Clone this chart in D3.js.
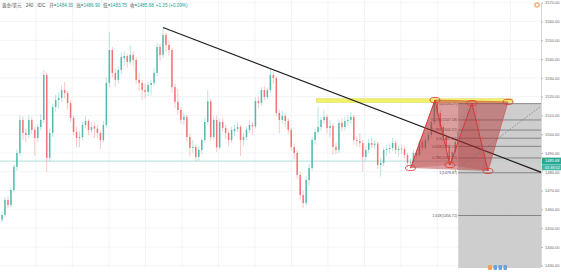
<!DOCTYPE html>
<html>
<head>
<meta charset="utf-8">
<script src="https://cdn.jsdelivr.net/npm/d3@7"></script>
<style>
  body { margin: 0; background: #fff; overflow: hidden; }
  text { font-family: "Liberation Sans", "Noto Sans CJK SC", sans-serif; }
</style>
</head>
<body>
<svg id="chart" width="561" height="273"></svg>
<script>
// XAU/USD 4h candles
const opens = [
  1454.5,1457.0,1465.0,1462.3,1470.3,1482.6,1490.0,1507.6,1500.7,1499.6,
  1507.6,1502.3,1498.0,1503.8,1507.6,1531.5,1487.4,1500.7,1514.5,1518.2,
  1519.3,1523.5,1521.9,1516.6,1508.6,1501.2,1498.0,1498.5,1504.9,1507.0,
  1502.3,1504.2,1503.0,1500.7,1496.9,1504.9,1527.3,1544.8,1532.6,1528.9,
  1534.2,1540.5,1541.6,1538.5,1542.2,1539.5,1528.9,1527.3,1523.5,1522.5,
  1526.2,1527.3,1532.6,1546.4,1542.2,1552.8,1547.5,1544.8,1525.1,1517.2,
  1512.9,1507.6,1509.2,1498.5,1492.7,1493.2,1487.9,1491.6,1496.9,1506.5,
  1517.5,1498.5,1507.6,1493.0,1506.5,1503.3,1500.7,1496.9,1501.5,1502.8,
  1503.8,1496.9,1498.5,1502.3,1504.9,1504.2,1517.7,1516.6,1523.5,1519.8,
  1523.5,1531.5,1529.9,1511.3,1507.6,1509.7,1507.0,1502.3,1493.2,1490.0,
  1478.3,1467.6,1463.4,1475.6,1482.0,1496.9,1501.2,1503.8,1507.6,1509.2,
  1503.3,1504.4,1493.2,1491.6,1506.0,1503.8,1507.0,1507.6,1509.2,1496.9,
  1496.4,1495.3,1487.9,1491.6,1495.3,1494.3,1495.0,1483.6,1484.7,1491.6,
  1492.1,1492.7,1495.3,1491.6,1492.3,1492.1,1488.9,1484.7,1485.2,1490.0,
  1488.9,1495.9,1492.7,1496.9,1499.6,1506.5,1516.6,1511.3,1503.8,1498.5,
  1493.2,1486.3,1490.5,1495.9,1501.2,1504.9,1510.2,1513.9,1515.5,1515.0,
  1507.6,1499.1,1490.5,1483.6,1484.30
];
const highs = [
  1459.0,1466.5,1467.0,1471.5,1484.0,1492.0,1510.0,1509.5,1503.0,1510.0,
  1509.0,1504.0,1505.5,1510.5,1534.2,1533.0,1503.0,1516.0,1521.0,1522.5,
  1526.0,1527.8,1523.0,1518.0,1510.0,1504.0,1501.5,1506.5,1509.5,1508.0,
  1506.5,1506.0,1505.0,1502.0,1507.0,1530.0,1554.6,1546.5,1535.0,1536.0,
  1543.5,1544.0,1543.0,1547.5,1544.0,1541.0,1532.5,1529.0,1527.0,1528.0,
  1529.0,1535.0,1548.5,1548.0,1556.5,1554.0,1550.0,1546.0,1527.0,1524.0,
  1514.5,1511.5,1510.5,1500.0,1497.0,1494.5,1493.5,1498.0,1509.0,1523.5,
  1519.0,1509.5,1510.0,1508.0,1508.5,1505.0,1502.0,1504.0,1505.0,1506.5,
  1505.0,1501.0,1504.0,1507.5,1506.5,1519.5,1520.0,1525.0,1525.5,1525.0,
  1535.2,1533.5,1531.0,1513.0,1512.5,1511.5,1508.5,1503.5,1495.0,1491.5,
  1480.0,1470.0,1477.5,1484.0,1498.5,1503.0,1514.5,1509.0,1513.0,1510.5,
  1507.5,1506.0,1495.5,1508.0,1508.5,1509.0,1510.0,1511.8,1510.5,1499.0,
  1500.5,1497.0,1493.5,1497.5,1498.0,1497.0,1496.0,1487.5,1493.0,1494.5,
  1495.0,1498.0,1497.0,1494.0,1494.5,1493.5,1490.0,1487.0,1491.5,1492.0,
  1497.0,1497.5,1498.5,1501.0,1508.5,1518.5,1518.0,1513.0,1505.5,1500.0,
  1495.0,1492.0,1497.5,1503.0,1506.0,1511.5,1515.5,1517.5,1516.5,1516.0,
  1509.0,1500.5,1492.0,1485.5,1486.90
];
const lows = [
  1453.0,1456.0,1460.5,1461.0,1469.0,1480.5,1488.5,1497.0,1495.5,1498.0,
  1500.0,1488.5,1496.0,1502.0,1506.0,1480.0,1485.5,1498.5,1512.0,1513.5,
  1517.0,1519.0,1513.0,1506.5,1499.5,1493.2,1493.0,1497.0,1503.0,1499.5,
  1500.5,1498.0,1498.0,1492.0,1495.5,1503.5,1525.0,1530.0,1525.0,1527.0,
  1532.0,1536.5,1535.5,1537.0,1536.0,1527.0,1523.0,1518.2,1519.0,1520.5,
  1521.0,1525.5,1531.0,1539.0,1540.5,1544.0,1542.0,1522.0,1514.0,1510.5,
  1505.5,1505.0,1496.0,1488.0,1490.0,1485.5,1486.0,1489.5,1495.5,1505.0,
  1496.5,1497.0,1490.5,1492.0,1501.5,1497.5,1493.5,1495.5,1499.0,1501.0,
  1488.5,1494.0,1497.0,1500.5,1500.0,1503.0,1514.0,1515.0,1518.0,1518.5,
  1522.0,1527.0,1509.5,1500.5,1505.5,1504.0,1500.0,1491.5,1487.0,1476.0,
  1465.0,1460.7,1462.0,1472.5,1480.5,1494.5,1500.0,1502.0,1505.5,1500.5,
  1498.0,1489.0,1489.5,1490.0,1501.5,1502.0,1504.5,1505.5,1494.5,1493.5,
  1493.0,1480.0,1486.0,1490.0,1492.5,1492.0,1481.5,1477.5,1483.0,1488.5,
  1490.0,1491.0,1489.5,1488.0,1489.5,1487.0,1482.5,1481.5,1484.0,1487.0,
  1488.0,1491.0,1491.5,1495.0,1498.0,1505.0,1509.5,1502.0,1496.5,1491.5,
  1484.5,1485.0,1489.0,1494.5,1499.5,1503.5,1508.5,1512.0,1511.0,1505.5,
  1497.5,1488.5,1482.0,1479.5,1483.75
];
const closes = [
  1457.0,1465.0,1462.3,1470.3,1482.6,1490.0,1507.6,1500.7,1499.6,1507.6,
  1502.3,1498.0,1503.8,1507.6,1531.5,1487.4,1500.7,1514.5,1518.2,1519.3,
  1523.5,1521.9,1516.6,1508.6,1501.2,1498.0,1498.5,1504.9,1507.0,1502.3,
  1503.8,1503.0,1500.7,1496.9,1504.9,1527.3,1544.8,1532.6,1528.9,1534.2,
  1541.1,1541.6,1538.5,1542.2,1539.5,1528.9,1527.3,1523.5,1522.5,1526.2,
  1527.3,1532.6,1546.4,1542.2,1552.8,1547.5,1544.8,1525.1,1517.2,1512.9,
  1507.6,1509.2,1498.5,1492.7,1493.2,1487.9,1491.6,1496.9,1506.5,1517.5,
  1498.5,1507.6,1493.0,1506.5,1503.3,1500.7,1496.9,1502.3,1502.8,1503.8,
  1496.9,1498.5,1502.3,1504.9,1504.2,1517.7,1516.6,1523.5,1519.8,1523.5,
  1531.5,1529.9,1511.3,1507.6,1509.7,1507.0,1502.3,1493.2,1490.0,1478.3,
  1467.6,1463.4,1475.6,1482.0,1496.9,1501.2,1503.8,1507.6,1509.2,1503.3,
  1504.4,1493.2,1491.6,1506.0,1503.8,1507.0,1507.6,1509.2,1496.9,1496.4,
  1495.3,1487.9,1491.6,1495.3,1494.3,1495.0,1483.6,1484.7,1491.6,1492.1,
  1492.7,1495.3,1491.6,1492.3,1492.1,1488.9,1484.7,1485.2,1490.0,1488.9,
  1495.9,1492.7,1496.9,1499.6,1506.5,1516.6,1511.3,1503.8,1498.5,1493.2,
  1486.3,1490.5,1495.9,1501.2,1504.9,1510.2,1513.9,1515.5,1515.0,1507.6,
  1499.1,1490.5,1483.6,1484.3,1485.68
];

const priceTicks = [1430,1440,1450,1460,1470,1480,1490,1500,1510,1520,1530,1540,1550,1560,1570];
// vertical grid lines, in candle index units
const timeGrid = [11.4,23.6,35.9,48.1,60.4,72.6,84.8,97.1,109.3,121.6,133.8,146.0,158.3,170.5];

// drawings
const trendIdx = [54, 181];
const trendPrice = [1556.8, 1479.6];
const resistIdx = [105.4, 171.2];
const resistPrice = 1517.9;
const patternNames = ["X","A","B","C","D","E"];
const patternIdx = [137, 145.2, 150.2, 157.6, 163, 169.7];
const patternPrice = [1482.0, 1518.2, 1483.6, 1516.6, 1480.4, 1517.2];
const fibStartIdx = 153;
const fibRatios = ["0","0.236","0.382","0.5","0.618","0.786","1","1.618"];
const fibPrices = [1516.27,1507.58,1502.21,1497.87,1493.53,1487.35,1479.47,1456.72];
const fibDiagIdx = [151, 181];
const fibDiagPrice = [1479.47, 1515.2];

const plotRight = 541, plotBottom = 268;
const n = closes.length;
const x = d3.scaleLinear().domain([0, n - 1]).range([2, 491]);
const y = d3.scaleLinear().domain([1430, 1570]).range([265.7, 2.7]);

const svg = d3.select("#chart");
svg.append("defs").append("clipPath").attr("id", "plot")
  .append("rect").attr("x", 0).attr("y", 0).attr("width", plotRight).attr("height", plotBottom);

// grid
const grid = svg.append("g").attr("clip-path", "url(#plot)");
grid.selectAll(".hg").data(priceTicks).enter().append("line")
  .attr("x1", 0).attr("x2", plotRight)
  .attr("y1", d => y(d)).attr("y2", d => y(d))
  .attr("stroke", "#edf1f6").attr("stroke-width", 0.8);
grid.selectAll(".vg").data(timeGrid).enter().append("line")
  .attr("x1", d => x(d)).attr("x2", d => x(d))
  .attr("y1", 0).attr("y2", plotBottom)
  .attr("stroke", "#edf1f6").attr("stroke-width", 0.8);

const plot = svg.append("g").attr("clip-path", "url(#plot)");

// last price line
plot.append("line")
  .attr("x1", 0).attr("x2", plotRight)
  .attr("y1", y(closes[n - 1])).attr("y2", y(closes[n - 1]))
  .attr("stroke", "#9ad8cf").attr("stroke-width", 0.8);

// candles
const upCol = "#3fb3a3", downCol = "#f06461";
const idx = d3.range(n);
plot.selectAll(".wick").data(idx).enter().append("line")
  .attr("x1", i => x(i)).attr("x2", i => x(i))
  .attr("y1", i => y(highs[i])).attr("y2", i => y(lows[i]))
  .attr("stroke", i => closes[i] >= opens[i] ? upCol : downCol)
  .attr("stroke-opacity", 0.4).attr("stroke-width", 0.9);
plot.selectAll(".body").data(idx).enter().append("rect")
  .attr("x", i => x(i) - 0.75).attr("width", 1.5)
  .attr("y", i => y(Math.max(opens[i], closes[i])))
  .attr("height", i => Math.max(0.7, Math.abs(y(opens[i]) - y(closes[i]))))
  .attr("fill", i => closes[i] >= opens[i] ? upCol : downCol)
  .attr("fill-opacity", 0.85);

// fib region
plot.append("rect")
  .attr("x", x(fibStartIdx)).attr("y", y(fibPrices[0]))
  .attr("width", plotRight - x(fibStartIdx)).attr("height", plotBottom - y(fibPrices[0]))
  .attr("fill", "#c6c6c6").attr("fill-opacity", 0.85);
plot.selectAll(".fib").data(fibPrices).enter().append("line")
  .attr("x1", x(fibStartIdx)).attr("x2", plotRight)
  .attr("y1", d => y(d)).attr("y2", d => y(d))
  .attr("stroke", "#7d7d7d").attr("stroke-width", 0.9);
plot.selectAll(".fibl").data(fibPrices).enter().append("text")
  .attr("x", x(fibStartIdx) - 1).attr("y", d => y(d) + 1.3)
  .attr("text-anchor", "end").attr("font-size", 3.7).attr("fill", "#555")
  .text((d, i) => fibRatios[i] + "(" + d.toFixed(2) + ")");

// resistance band
plot.append("rect")
  .attr("x", x(resistIdx[0])).attr("width", x(resistIdx[1]) - x(resistIdx[0]))
  .attr("y", y(resistPrice) - 2).attr("height", 4)
  .attr("fill", "#f1f06a").attr("stroke", "#d9d64a").attr("stroke-width", 0.4);

// trend line
plot.append("line")
  .attr("x1", x(trendIdx[0])).attr("y1", y(trendPrice[0]))
  .attr("x2", x(trendIdx[1])).attr("y2", y(trendPrice[1]))
  .attr("stroke", "#1e1e1e").attr("stroke-width", 1.2);

// pattern
const pt = i => [x(patternIdx[i]), y(patternPrice[i])];
plot.append("polygon")
  .attr("points", [pt(0), pt(1), pt(5), pt(4)].map(p => p.join(",")).join(" "))
  .attr("fill", "#b22a2a").attr("fill-opacity", 0.45);
[[0, 1, 2], [2, 3, 4]].forEach(t => {
  plot.append("polygon")
    .attr("points", t.map(k => pt(k).join(",")).join(" "))
    .attr("fill", "#b22a2a").attr("fill-opacity", 0.25);
});
plot.append("path")
  .attr("d", d3.line()([0, 1, 2, 3, 4].map(pt)))
  .attr("fill", "none").attr("stroke", "#d23a3a").attr("stroke-width", 1);
plot.append("path")
  .attr("d", d3.line()([1, 5, 4].map(pt)))
  .attr("fill", "none").attr("stroke", "#d23a3a").attr("stroke-width", 0.5);
plot.selectAll(".pe").data(patternNames).enter().append("ellipse")
  .attr("cx", (d, i) => pt(i)[0]).attr("cy", (d, i) => pt(i)[1])
  .attr("rx", 5).attr("ry", 2.6)
  .attr("fill", "none").attr("stroke", "#e0403c").attr("stroke-width", 0.9);

// fib diagonal
plot.append("line")
  .attr("x1", x(fibDiagIdx[0])).attr("y1", y(fibDiagPrice[0]))
  .attr("x2", x(fibDiagIdx[1])).attr("y2", y(fibDiagPrice[1]))
  .attr("stroke", "#777").attr("stroke-width", 0.7).attr("stroke-dasharray", "1.5,1.5");

// price axis
const axis = svg.append("g")
  .attr("transform", "translate(" + plotRight + ",0)")
  .call(d3.axisRight(y).tickValues(priceTicks).tickFormat(d3.format(".2f")).tickSize(2).tickPadding(2));
axis.select(".domain").attr("stroke", "#d8d8d8");
axis.selectAll(".tick line").attr("stroke", "#bbb");
axis.selectAll(".tick text").attr("font-size", 4).attr("fill", "#666")
  .style("font-family", "Liberation Sans, sans-serif");

// last price tags
const lastY = y(closes[n - 1]);
svg.append("rect").attr("x", plotRight + 1).attr("y", lastY - 3.5).attr("width", 19).attr("height", 6.5).attr("fill", "#2aa896");
svg.append("text").attr("x", plotRight + 4).attr("y", lastY + 1.3).attr("font-size", 4).attr("fill", "#fff").text(closes[n - 1].toFixed(2));
svg.append("rect").attr("x", plotRight + 1).attr("y", lastY + 3.2).attr("width", 19).attr("height", 6).attr("fill", "#3fb7a5");
svg.append("text").attr("x", plotRight + 4).attr("y", lastY + 7.6).attr("font-size", 3.8).attr("fill", "#fff").text("01:36:52");

// legend line
const o = opens[n - 1], h = highs[n - 1], l = lows[n - 1], c = closes[n - 1];
const head = svg.append("text").attr("x", 2).attr("y", 7).attr("font-size", 4.6).attr("fill", "#555");
head.append("tspan").text("黄金/美元");
head.append("tspan").attr("dx", 4).text("240");
head.append("tspan").attr("dx", 4).text("IDC");
[["开", o], ["高", h], ["低", l], ["收", c]].forEach(([k, v], i) => {
  head.append("tspan").attr("dx", i ? 3 : 4).attr("fill", "#555").text(k + "=");
  head.append("tspan").attr("fill", "#22a190").text(v.toFixed(2));
});
head.append("tspan").attr("dx", 2).attr("fill", "#22a190").text("+1.35 (+0.09%)");

// small icons
svg.append("circle").attr("cx", 537).attr("cy", 5).attr("r", 2.8).attr("fill", "#f7b27a");
svg.append("circle").attr("cx", 537).attr("cy", 5).attr("r", 1.2).attr("fill", "#fff");
svg.append("rect").attr("x", 488).attr("y", 265).attr("width", 4).attr("height", 5).attr("rx", 1).attr("fill", "#f0a050");
[493.5, 498.5, 503.5].forEach(px => {
  svg.append("rect").attr("x", px).attr("y", 265).attr("width", 3.5).attr("height", 5).attr("rx", 0.8).attr("fill", "#6fa0e0");
});
</script>
</body>
</html>
